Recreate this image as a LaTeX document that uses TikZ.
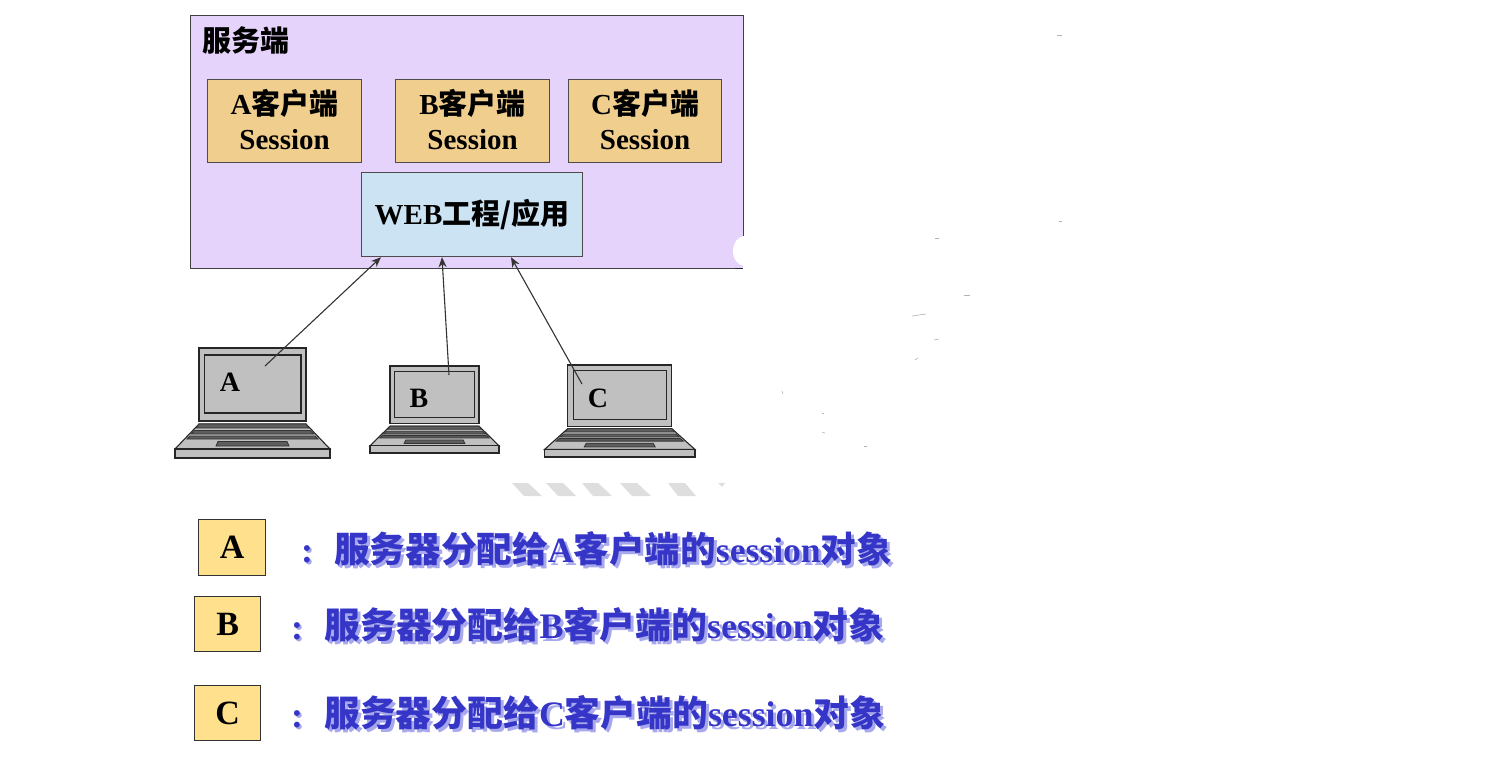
\documentclass[tikz,border=0pt]{standalone}
\usepackage{fontspec}
\setmainfont{Liberation Serif}
\newfontfamily\cjk{Noto Sans CJK SC}
\usetikzlibrary{arrows.meta,calc}
\definecolor{serverfill}{HTML}{E6D3FC}
\definecolor{clientfill}{HTML}{F0CE8E}
\definecolor{webfill}{HTML}{CBE3F2}
\definecolor{keyfill}{HTML}{FFE08C}
\definecolor{lapgray}{HTML}{C0C0C0}
\definecolor{lapdark}{HTML}{5E5E5E}
\definecolor{bluetext}{HTML}{3535C8}
\definecolor{blueshadow}{HTML}{A8A8EC}
\definecolor{stripe}{HTML}{DEDEDE}
\newcommand{\fs}[1]{\fontsize{#1}{#1}\selectfont}
\newcommand{\cn}[1]{{\cjk\bfseries #1}}
\tikzset{
  x=1pt,y=-1pt,
  serverbox/.style={draw=black!75,line width=1pt},
  clientbox/.style={draw=black!70,line width=1.2pt,fill=clientfill,inner sep=0pt,minimum width=154pt,minimum height=83pt,align=center,text depth=4pt,font=\fontsize{29}{35}\selectfont\bfseries,anchor=north west},
  webbox/.style={draw=black!70,line width=1.2pt,fill=webfill,inner sep=0pt,minimum width=221pt,minimum height=84pt,font=\fontsize{29}{35}\selectfont\bfseries,anchor=north west},
  keybox/.style={draw=black!80,line width=1.2pt,fill=keyfill,inner sep=0pt,font=\fontsize{34}{40}\selectfont\bfseries,anchor=north west},
  lapline/.style={draw=black!85,line width=1.1pt,fill=lapgray},
  lapbar/.style={draw=black!80,line width=.8pt,fill=lapdark},
  laptext/.style={font=\fontsize{28}{30}\selectfont\bfseries,inner sep=0pt},
  link/.style={draw=black!80,line width=1.1pt,-{Stealth[length=10pt,width=8pt]}},
  legendtext/.style={text=bluetext,inner sep=0pt,anchor=west,font=\bfseries},
  legendshadow/.style={text=blueshadow,inner sep=0pt,anchor=west,font=\bfseries},
  speck/.style={draw=black!30,line width=.6pt},
  band/.style={fill=stripe,draw=none}
}
% #1 left, #2 top, #3 width, #4 height: drawn from the geometry of laptop A
\newcommand{\laptop}[4]{%
  \begin{scope}[shift={(#1,#2)},x=#3/155*1pt,y=-#4/110*1pt]
    \draw[lapline] (24,0) rectangle (131,73);
    \draw[lapline] (29.5,7) rectangle (126,65);
    \draw[lapline] (24,76) -- (131,76) -- (155,101) -- (0,101) -- cycle;
    \draw[lapbar] (24,76) -- (131,76) -- (134,80) -- (21,80) -- cycle;
    \draw[lapbar] (20,82.5) -- (135,82.5) -- (139,86) -- (16,86) -- cycle;
    \draw[lapbar] (15,88) -- (140,88) -- (143,91) -- (12,91) -- cycle;
    \draw[lapbar] (43,93.5) -- (112,93.5) -- (114,98) -- (41,98) -- cycle;
    \draw[lapline] (0,101) rectangle (155,110);
  \end{scope}%
}
\begin{document}
\begin{tikzpicture}
\useasboundingbox (0,0) rectangle (1512,771);
% server
\path[fill=serverfill] (190,15) rectangle (743,268);
\draw[serverbox] (743,236) -- (743,15) -- (190,15) -- (190,268) -- (743,268);
\fill[white] (745,251) ellipse (12 and 15);
\draw[black!85,line width=1pt] (735,268) -- (743,268);
\node[inner sep=0pt,anchor=west,font=\fs{29}] (srv) at (202,41) {\cn{服务端}};
\node[clientbox] (ca) at (207,79) {\textbf{A}\cn{客户端}\\Session};
\node[clientbox] (cb) at (395,79) {\textbf{B}\cn{客户端}\\Session};
\node[clientbox,minimum width=153pt] (cc) at (568,79) {\textbf{C}\cn{客户端}\\Session};
\node[webbox] (web) at (361,172) {WEB\cn{工程/应用}};
% laptops
\laptop{175}{348}{155}{110}
\laptop{370}{366}{129}{87}
\laptop{544.5}{365}{150.5}{92}
\node[laptext] (la) at (230,382) {A};
\node[laptext] (lb) at (419,398) {B};
\node[laptext] (lc) at (598,398) {C};
\coordinate (pa) at (265,366);
\coordinate (pb) at (449,375);
\coordinate (pc) at (582,384);
\draw[link] (pa) -- ($(web.south west)+(20,0)$);
\draw[link] (pb) -- ($(web.south west)+(81,0)$);
\draw[link] (pc) -- ($(web.south west)+(150,0)$);
% grey stripes
\fill[band] (512,483) -- (528,483) -- (542,496) -- (524,496) -- cycle;
\fill[band] (546,483) -- (563,483) -- (576,496) -- (558,496) -- cycle;
\fill[band] (582,483) -- (598,483) -- (612,496) -- (593,496) -- cycle;
\fill[band] (620,483) -- (637,483) -- (651,496) -- (632,496) -- cycle;
\fill[band] (668,483) -- (685,483) -- (696,496) -- (678,496) -- cycle;
\fill[band] (718,483) -- (725,483) -- (722,487) -- cycle;
% specks
\draw[speck] (1057,35) -- (1062,35);
\draw[speck] (935,238) -- (939,238);
\draw[speck] (1059,221) -- (1062,221);
\draw[speck] (964,295) -- (970,295);
\draw[speck] (912,316) -- (926,314);
\draw[speck] (934,340) -- (939,339);
\draw[speck] (915,360) -- (918,358);
\draw[speck] (782,391) -- (783,394);
\draw[speck] (822,413) -- (824,413);
\draw[speck] (822,432) -- (825,433);
\draw[speck] (864,446) -- (867,446);
% legend
\node[keybox,minimum width=67pt,minimum height=56pt] (ka) at (198,519) {A};
\node[keybox,minimum width=66pt,minimum height=55pt] (kb) at (194,596) {B};
\node[keybox,minimum width=66pt,minimum height=55pt] (kc) at (194,685) {C};
\node[legendshadow,font=\fontsize{36}{40}\selectfont\bfseries] (sca) at (303,556) {:};
\node[legendshadow,font=\fontsize{35.6}{40}\selectfont\bfseries] (sa) at (337,552) {\cn{服务器分配给}A\cn{客户端的}session\cn{对象}};
\node[legendtext,font=\fontsize{36}{40}\selectfont\bfseries] (cola) at (301,554) {:};
\node[legendtext,font=\fontsize{35.6}{40}\selectfont\bfseries] (ta) at (334,549) {\cn{服务器分配给}A\cn{客户端的}session\cn{对象}};
\node[legendshadow,font=\fontsize{36}{40}\selectfont\bfseries] (scb) at (293,633) {:};
\node[legendshadow,font=\fontsize{35.9}{40}\selectfont\bfseries] (sb) at (327,628) {\cn{服务器分配给}B\cn{客户端的}session\cn{对象}};
\node[legendtext,font=\fontsize{36}{40}\selectfont\bfseries] (colb) at (291,631) {:};
\node[legendtext,font=\fontsize{35.9}{40}\selectfont\bfseries] (tb) at (324,625) {\cn{服务器分配给}B\cn{客户端的}session\cn{对象}};
\node[legendshadow,font=\fontsize{36}{40}\selectfont\bfseries] (scc) at (293,721) {:};
\node[legendshadow,font=\fontsize{35.8}{40}\selectfont\bfseries] (sc) at (327,716) {\cn{服务器分配给}C\cn{客户端的}session\cn{对象}};
\node[legendtext,font=\fontsize{36}{40}\selectfont\bfseries] (colc) at (291,719) {:};
\node[legendtext,font=\fontsize{35.8}{40}\selectfont\bfseries] (tc) at (324,713) {\cn{服务器分配给}C\cn{客户端的}session\cn{对象}};
\end{tikzpicture}
\end{document}
